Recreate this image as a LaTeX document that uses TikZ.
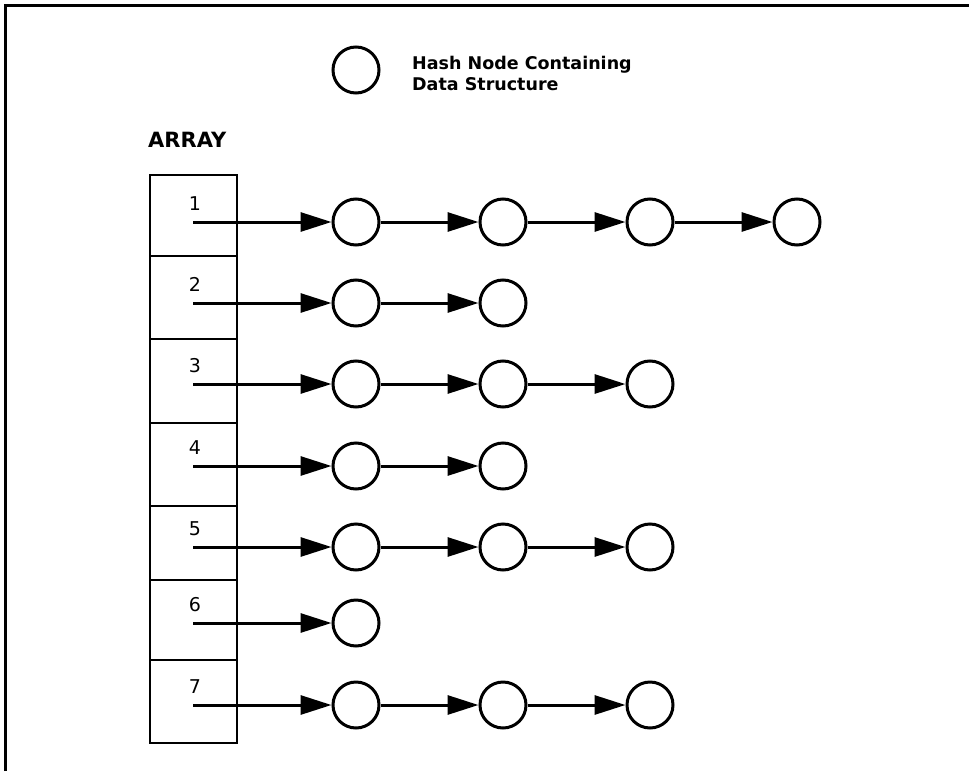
\documentclass[tikz,border=0pt]{standalone}
\usepackage{fontspec}
\setmainfont{DejaVu Sans}
\usetikzlibrary{arrows.meta}
\begin{document}
\begin{tikzpicture}[x=1pt,y=-1pt,
  hnode/.style={circle,draw,line width=3pt,minimum size=46pt,inner sep=0pt},
  link/.style={line width=3pt,-{Triangle[length=31pt,width=19pt]}},
  frameline/.style={line width=3pt},
  cell/.style={line width=2.8pt},
  numlabel/.style={font=\fontsize{19}{22}\selectfont,anchor=base,inner sep=0pt},
  legtext/.style={anchor=base west,inner sep=0pt,font=\bfseries\fontsize{17.5}{21}\selectfont},
]
\useasboundingbox (0,0) rectangle (969,771);
% frame
\draw[frameline] (5,771) coordinate (fbl) -- (5,5) coordinate (ftl) -- (969,5) coordinate (ftr);
% legend
\node[hnode] (leg) at (356,70) {};
\node[legtext] (legtext1) at (412,69) {Hash Node Containing};
\node[legtext] (legtext2) at (412,90) {Data Structure};
% array
\node[anchor=base west,font=\bfseries\fontsize{21}{24}\selectfont,inner sep=0pt] (arraylabel) at (148,147) {ARRAY};
\draw[cell] (150,175) rectangle (237,743);
\foreach \dy in {256,339,423,506,580,660} {
  \draw[cell] (150,\dy) -- (237,\dy);
}
% rows
\foreach \r/\y/\n in {1/222/4,2/303/2,3/384/3,4/466/2,5/547/3,6/623/1,7/705/3} {
  \coordinate (s\r) at (193,\y);
  \node[numlabel] (lab\r) at (195,\y-12) {\r};
  \foreach \c in {1,...,\n} {
    \node[hnode] (c\r-\c) at ({356+147*(\c-1)},\y) {};
  }
  \draw[link] (s\r) -- (c\r-1);
  \ifnum\n>1
    \foreach \c [evaluate=\c as \p using int(\c-1)] in {2,...,\n} {
      \draw[link] (c\r-\p) -- (c\r-\c);
    }
  \fi
}
\end{tikzpicture}
\end{document}
